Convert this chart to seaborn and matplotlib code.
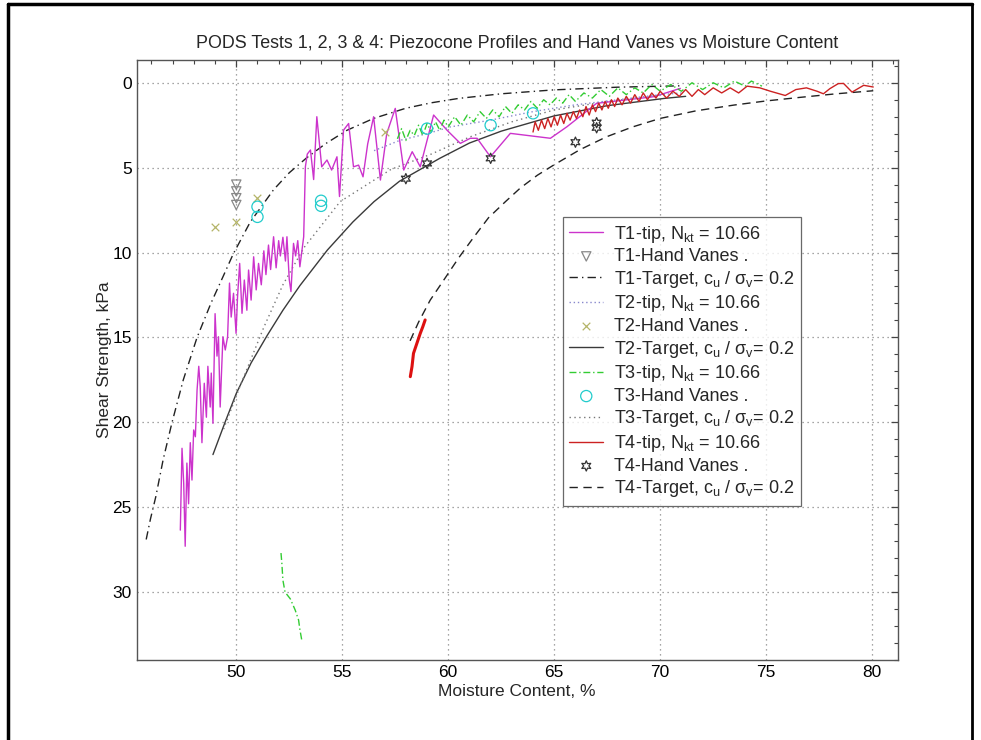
import matplotlib
matplotlib.use("Agg")
import matplotlib.pyplot as plt
from matplotlib.lines import Line2D
from matplotlib.ticker import MultipleLocator
import seaborn as sns

# ---- data ----
# T1 piezocone tip profile
t1_tip_x = [47.36, 47.44, 47.52, 47.59, 47.67, 47.75, 47.83, 47.91, 47.99, 48.07,
            48.15, 48.23, 48.30, 48.38, 48.49, 48.59, 48.66, 48.77, 48.82, 48.90,
            49.00, 49.09, 49.16, 49.24, 49.37, 49.48, 49.59, 49.68, 49.76, 49.87,
            49.99, 50.06, 50.16, 50.27, 50.38, 50.50, 50.58, 50.70, 50.82, 50.94,
            51.05, 51.18, 51.30, 51.40, 51.52, 51.62, 51.76, 51.88, 52.00, 52.08,
            52.20, 52.32, 52.39, 52.50, 52.58, 52.70, 52.80, 52.90, 53.00, 53.18,
            53.26, 53.35, 53.50, 53.65, 53.80, 54.03, 54.28, 54.50, 54.75, 54.87,
            55.06, 55.30, 55.53, 55.77, 55.98, 56.20, 56.48, 56.80, 57.10, 57.50,
            57.90, 58.30, 58.68, 59.31, 59.94, 60.57, 61.04, 61.36, 61.99, 62.93,
            64.82, 65.60, 67.00, 69.70, 70.95]
t1_tip_y = [26.35, 21.53, 23.6, 27.3, 22.4, 24.8, 21.2, 23.4, 20.45, 20.85,
            18.1, 16.7, 17.9, 21.2, 17.7, 19.7, 16.7, 19.1, 17.1, 20.06,
            13.6, 16.1, 14.96, 19.1, 14.96, 15.74, 14.96, 11.8, 13.8, 12.4,
            14.76, 12.6, 10.64, 13.58, 11.62, 13.4, 11.03, 12.8, 10.25, 12.2,
            10.64, 11.9, 9.9, 11.3, 9.56, 11.0, 9.07, 10.9, 9.3, 10.2,
            9.1, 10.5, 9.07, 11.6, 12.3, 9.46, 10.2, 9.3, 10.84, 9.07,
            4.95, 4.2, 3.96, 5.7, 2.0, 4.95, 4.55, 5.14, 4.36, 6.7,
            2.79, 2.4, 4.95, 4.85, 5.54, 3.6, 2.0, 5.73, 2.98, 1.51,
            5.14, 4.06, 4.95, 1.9, 2.79, 3.57, 3.27, 3.27, 4.36, 2.98,
            3.27, 2.59, 1.21, 0.82, 0.33]

# T2 tip profile (dotted)
t2_tip_x = [56.5, 57.7, 59.0, 60.1, 62.0, 64.0, 66.0, 68.0, 70.0, 71.0]
t2_tip_y = [4.0, 3.4, 3.0, 2.6, 2.2, 1.7, 1.3, 1.0, 0.7, 0.6]

# T3 tip profile: upper zig-zag part and the short deep piece
t3_tip_x = [57.6, 57.8, 58.0, 58.2, 58.4, 58.6, 58.8, 59.0, 59.2, 59.4, 59.6, 59.8,
            60.0, 60.3, 60.6, 60.9, 61.2, 61.5, 61.8, 62.1, 62.4, 62.7, 63.0, 63.3,
            63.6, 63.9, 64.2, 64.5, 64.8, 65.1, 65.4, 65.7, 66.0, 66.4, 66.8, 67.2,
            67.6, 68.0, 68.4, 68.8, 69.2, 69.6, 70.0, 70.5, 71.0, 71.5, 72.0, 72.5,
            73.0, 73.5, 74.0, 74.3, 74.8]
t3_tip_y = [3.3, 2.7, 3.4, 2.8, 3.1, 2.5, 3.1, 2.4, 2.9, 2.3, 2.8, 2.2,
            2.6, 2.0, 2.5, 1.9, 2.3, 1.7, 2.1, 1.6, 2.0, 1.4, 1.8, 1.3,
            1.6, 1.1, 1.5, 1.0, 1.3, 0.9, 1.2, 0.7, 1.1, 0.6, 0.9, 0.4,
            0.8, 0.3, 0.7, 0.3, 0.6, 0.1, 0.5, 0.1, 0.5, 0.0, 0.4, 0.0,
            0.3, -0.1, 0.2, -0.1, 0.2]
t3_deep_x = [52.11, 52.15, 52.20, 52.30, 52.55, 52.78, 52.94, 53.00, 53.10]
t3_deep_y = [27.7, 28.3, 29.3, 30.0, 30.4, 31.06, 31.65, 32.2, 32.9]

# T4 tip profile: upper part and the short deep piece
t4_tip_x = [64.0, 64.1, 64.25, 64.4, 64.55, 64.7, 64.85, 65.0, 65.15, 65.3, 65.45,
            65.6, 65.75, 65.9, 66.05, 66.2, 66.35, 66.5, 66.65, 66.8, 66.95, 67.1,
            67.25, 67.4, 67.55, 67.7, 67.85, 68.0, 68.2, 68.4, 68.6, 68.8, 69.0,
            69.2, 69.4, 69.6, 69.8, 70.0, 70.3, 70.6, 70.9, 71.2, 71.5, 71.8,
            72.1, 72.5, 72.9, 73.3, 73.7, 74.1, 74.7, 75.2, 75.9, 76.4, 76.9,
            77.4, 77.7, 78.0, 78.4, 78.65, 79.05, 79.6, 80.05]
t4_tip_y = [2.9, 2.3, 2.8, 2.2, 2.7, 2.1, 2.6, 2.0, 2.5, 1.9, 2.4,
            1.8, 2.2, 1.7, 2.1, 1.6, 2.0, 1.4, 1.9, 1.3, 1.7, 1.2,
            1.6, 1.1, 1.5, 1.0, 1.4, 0.9, 1.3, 0.8, 1.2, 0.7, 1.1,
            0.6, 1.0, 0.6, 0.9, 0.5, 0.9, 0.5, 0.8, 0.4, 0.8, 0.4,
            0.7, 0.3, 0.6, 0.3, 0.6, 0.2, 0.3, 0.5, 0.75, 0.4, 0.3,
            0.5, 0.65, 0.35, 0.05, 0.04, 0.55, 0.15, 0.25]
t4_deep_x = [58.21, 58.29, 58.36, 58.52, 58.68, 58.80, 58.91]
t4_deep_y = [17.31, 16.72, 15.94, 15.35, 14.76, 14.37, 13.97]

# target curves, cu / sigma_v = 0.2
t1_tgt_x = [45.75, 45.95, 46.2, 46.55, 46.97, 47.5, 48.15, 48.8, 49.4, 49.85,
            50.66, 51.76, 52.5, 53.34, 54.2, 55.22, 56.48, 58.0, 59.2, 60.5,
            62.5, 64.97, 68.0, 70.95]
t1_tgt_y = [26.9, 25.7, 24.4, 22.2, 20.0, 17.5, 15.0, 13.0, 11.35, 10.1,
            8.2, 6.3, 5.3, 4.4, 3.6, 2.8, 2.1, 1.5, 1.18, 0.92,
            0.65, 0.42, 0.26, 0.18]
t2_tgt_x = [48.9, 49.5, 50.0, 50.7, 51.45, 52.2, 53.0, 54.3, 55.5, 56.5,
            57.7, 59.6, 61.0, 62.5, 65.0, 67.5, 70.2, 71.2]
t2_tgt_y = [21.9, 19.9, 18.3, 16.5, 14.9, 13.4, 11.95, 9.85, 8.2, 7.0,
            5.8, 4.45, 3.55, 2.85, 1.95, 1.35, 0.92, 0.8]
t3_tgt_x = [49.4, 50.2, 51.3, 52.2, 53.2, 54.9, 57.3, 59.2, 61.0, 63.0, 65.0,
            67.5, 70.0]
t3_tgt_y = [20.4, 17.8, 14.4, 11.9, 9.7, 7.0, 5.1, 4.2, 3.2, 2.3, 1.6,
            1.1, 0.75]
t4_tgt_x = [58.2, 58.6, 59.15, 59.8, 60.5, 61.2, 61.9, 62.7, 63.4, 64.2, 64.97,
            66.2, 67.47, 68.7, 70.0, 71.7, 73.5, 75.0, 76.6, 78.3, 80.05]
t4_tgt_y = [15.2, 14.1, 12.8, 11.6, 10.3, 9.1, 7.95, 7.0, 6.2, 5.45, 4.85,
            3.95, 3.18, 2.6, 2.1, 1.65, 1.31, 1.07, 0.86, 0.65, 0.47]

# hand vanes
t1_hv_x = [50, 50, 50, 50]
t1_hv_y = [6.0, 6.4, 6.8, 7.2]
t2_hv_x = [49, 50, 51, 57]
t2_hv_y = [8.48, 8.19, 6.77, 2.89]
t3_hv_x = [51, 51, 54, 54, 59, 62, 64]
t3_hv_y = [7.3, 7.9, 6.95, 7.25, 2.7, 2.5, 1.8]
t4_hv_x = [58, 59, 62, 66, 67, 67]
t4_hv_y = [5.65, 4.75, 4.45, 3.5, 2.35, 2.65]

nkt = r", N$_{\mathrm{kt}}$ = 10.66"
tgt = r"-Target, c$_{\mathrm{u}}$ / σ$_{\mathrm{v}}$= 0.2"
hv = "-Hand Vanes ."

sns.set_style("white")
plt.rcParams['font.family'] = ['Liberation Sans', 'DejaVu Sans']
plt.rcParams['mathtext.fontset'] = 'custom'
plt.rcParams['mathtext.rm'] = 'Liberation Sans'
plt.rcParams['mathtext.it'] = 'Liberation Sans:italic'
plt.rcParams['mathtext.bf'] = 'Liberation Sans:bold'

fig = plt.figure(figsize=(9.81, 7.40), dpi=100)
ax = fig.add_axes([0.1393, 0.1081, 0.7757, 0.8108])


def line(x, y, color, ls, label=None, lw=1.0):
    sns.lineplot(x=x, y=y, color=color, linestyle=ls, linewidth=lw, label=label,
                 sort=False, estimator=None, ax=ax)


def pts(x, y, color, marker, label, s=40, open_=True):
    if open_:
        sns.scatterplot(x=x, y=y, marker=marker, s=s, facecolors='none',
                        edgecolor=color, linewidth=0.9, label=label, ax=ax, zorder=4)
    else:
        sns.scatterplot(x=x, y=y, marker=marker, s=s, color=color,
                        linewidth=0.9, label=label, ax=ax, zorder=4)


dashdot = (0, (6, 3, 1, 3))
dotted = (0, (1, 2.5))

line(t1_tgt_x, t1_tgt_y, '#222222', dashdot, "T1" + tgt)
line(t2_tgt_x, t2_tgt_y, '#3a3a3a', '-', "T2" + tgt)
line(t3_tgt_x, t3_tgt_y, '#777777', dotted, "T3" + tgt)
line(t4_tgt_x, t4_tgt_y, '#222222', (0, (6, 4)), "T4" + tgt)

line(t1_tip_x, t1_tip_y, '#cc33cc', '-', "T1-tip" + nkt)
line(t2_tip_x, t2_tip_y, '#8888cc', (0, (1, 2)), "T2-tip" + nkt)
line(t3_tip_x, t3_tip_y, '#33cc33', (0, (5, 2, 1, 2)), "T3-tip" + nkt)
line(t3_deep_x, t3_deep_y, '#33cc33', (0, (5, 2, 1, 2)))
line(t4_tip_x, t4_tip_y, '#cc2222', '-', "T4-tip" + nkt)
line(t4_deep_x, t4_deep_y, '#dd1111', '-', lw=2.2)

pts(t1_hv_x, t1_hv_y, '#888888', 'v', "T1" + hv, s=45)
pts(t2_hv_x, t2_hv_y, '#b5b56a', 'x', "T2" + hv, s=30, open_=False)
pts(t3_hv_x, t3_hv_y, '#22cccc', 'o', "T3" + hv, s=65)
pts(t4_hv_x, t4_hv_y, '#333333', (6, 1, 0), "T4" + hv, s=55)

ax.set_xlim(45.3, 81.2)
ax.set_ylim(34.0, -1.34)
ax.xaxis.set_major_locator(MultipleLocator(5))
ax.xaxis.set_minor_locator(MultipleLocator(1))
ax.yaxis.set_major_locator(MultipleLocator(5))
ax.yaxis.set_minor_locator(MultipleLocator(1))
ax.set_xticks([50, 55, 60, 65, 70, 75, 80])
ax.tick_params(which='both', direction='in', top=True, right=True,
               colors='#444444', labelcolor='black', labelsize=12.5)
ax.tick_params(which='major', length=5, width=0.9)
ax.tick_params(which='minor', length=3, width=0.8)
ax.grid(True, which='major', linestyle=(0, (1, 3)), color='#888888', linewidth=0.9)
for sp in ax.spines.values():
    sp.set_color('#555555')
    sp.set_linewidth(1.0)

ax.set_title("PODS Tests 1, 2, 3 & 4: Piezocone Profiles and Hand Vanes vs Moisture Content",
             fontsize=12.9, pad=9)
ax.set_xlabel("Moisture Content, %", fontsize=12.5, labelpad=3)
ax.set_ylabel("Shear Strength, kPa", fontsize=12.5, labelpad=0)

handles, labels = ax.get_legend_handles_labels()
lookup = dict(zip(labels, handles))
order = []
for t in ["T1", "T2", "T3", "T4"]:
    order += [t + "-tip" + nkt, t + hv, t + tgt]
leg = ax.legend([lookup[k] for k in order], order, loc='upper left',
                bbox_to_anchor=(0.560, 0.738), borderaxespad=0, fontsize=13,
                frameon=True, fancybox=False, edgecolor='#444444',
                handlelength=1.9, handletextpad=0.6, labelspacing=0.2,
                borderpad=0.35)
leg.get_frame().set_linewidth(0.9)

# page frame lines around the figure
fig.add_artist(Line2D([0.0082, 0.0082], [0.0, 0.9946], transform=fig.transFigure,
                      color='black', lw=2.5))
fig.add_artist(Line2D([0.0082, 0.9908], [0.9946, 0.9946], transform=fig.transFigure,
                      color='black', lw=2.5))
fig.add_artist(Line2D([0.9908, 0.9908], [0.0, 0.9946], transform=fig.transFigure,
                      color='black', lw=2.0))

fig.savefig("out.png", dpi=100)
